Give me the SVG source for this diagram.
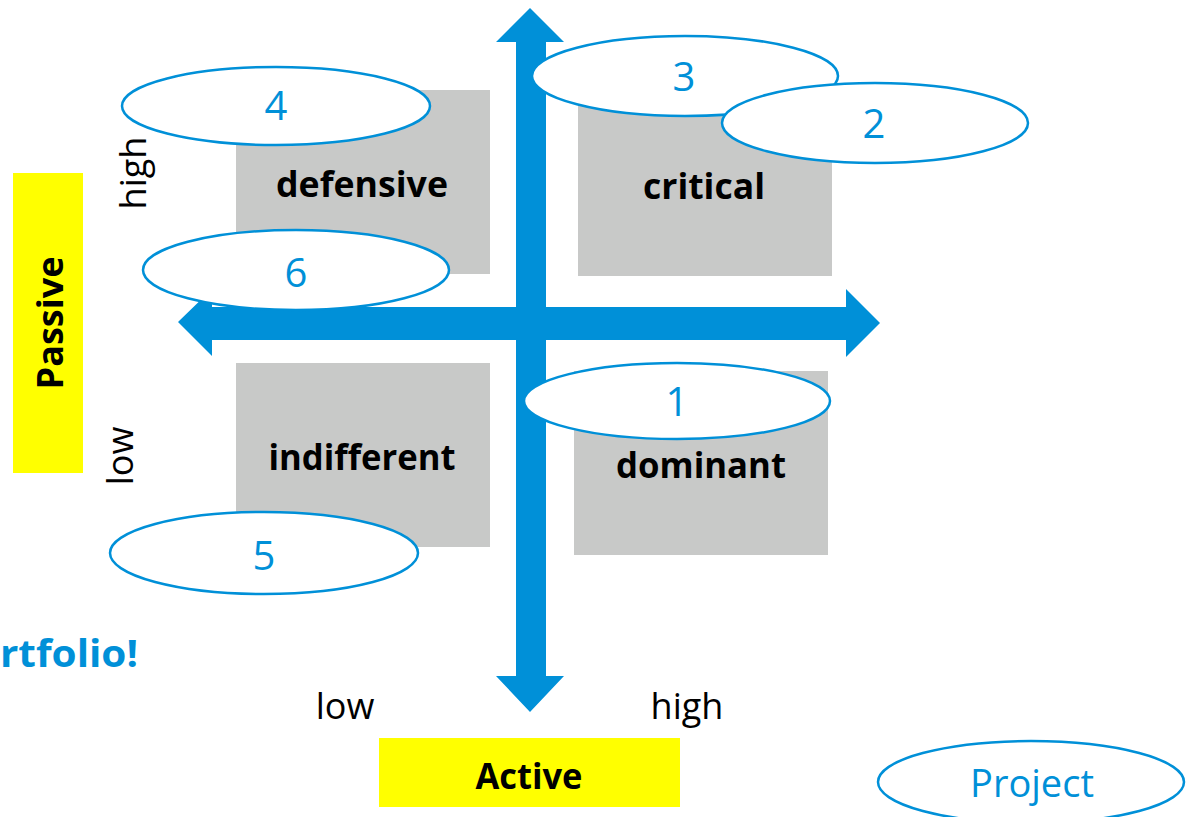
<svg xmlns="http://www.w3.org/2000/svg" width="1193" height="817" viewBox="0 0 1193 817">
<style>
.box{fill:#c8c9c8}
.ell{fill:#fff;stroke:#0090d8;stroke-width:2.5}
.num{font-family:"Open Sans","Noto Sans",sans-serif;font-size:40px;fill:#0090d8;text-anchor:middle}
.lbl{font-family:"Open Sans","Noto Sans",sans-serif;font-weight:bold;font-size:36px;fill:#000;text-anchor:middle}
.ax{font-family:"Open Sans","Noto Sans",sans-serif;font-size:36px;fill:#000;text-anchor:middle}
.arrow{fill:#0090d8}
.yel{fill:#ffff00}
</style>
<rect width="1193" height="817" fill="#fff"/>
<g id="box-defensive"><rect class="box" x="236" y="90" width="254" height="184"/><text class="lbl" x="362" y="197" textLength="172" lengthAdjust="spacingAndGlyphs">defensive</text></g>
<g id="box-critical"><rect class="box" x="578" y="95" width="254" height="181"/><text class="lbl" x="704" y="199" textLength="122" lengthAdjust="spacingAndGlyphs">critical</text></g>
<g id="box-indifferent"><rect class="box" x="236" y="363" width="254" height="184"/><text class="lbl" x="362" y="470" textLength="187" lengthAdjust="spacingAndGlyphs">indifferent</text></g>
<g id="box-dominant"><rect class="box" x="574" y="371" width="254" height="184"/><text class="lbl" x="701" y="478" textLength="170" lengthAdjust="spacingAndGlyphs">dominant</text></g>
<g id="connectors">
<polygon class="arrow" points="530,8 564,42 546,42 546,676 564,676 530,712 496,676 516,676 516,42 496,42"/>
<polygon class="arrow" points="178,322 212,289 212,307 846,307 846,289 880,323 846,357 846,340 212,340 212,356"/>
</g>
<g id="n4"><ellipse class="ell" cx="276" cy="106" rx="154" ry="39"/><text class="num" x="276" y="120">4</text></g>
<g id="n3"><ellipse class="ell" cx="685" cy="76" rx="153" ry="40"/><text class="num" x="684" y="91">3</text></g>
<g id="n2"><ellipse class="ell" cx="875" cy="123" rx="153" ry="40"/><text class="num" x="874" y="138">2</text></g>
<g id="n6"><ellipse class="ell" cx="296" cy="270" rx="153" ry="40"/><text class="num" x="296" y="287">6</text></g>
<g id="n1"><ellipse class="ell" cx="677" cy="401" rx="153" ry="38"/><text class="num" x="677" y="416">1</text></g>
<g id="n5"><ellipse class="ell" cx="264" cy="553" rx="154" ry="41"/><text class="num" x="264" y="570">5</text></g>
<g id="project"><ellipse class="ell" cx="1031" cy="782" rx="153" ry="41"/><text class="num" x="1032" y="797" style="font-size:38px">Project</text></g>
<g id="passive"><rect class="yel" x="13" y="173" width="70" height="300"/><text class="lbl" transform="translate(63,323) rotate(-90)" textLength="133" lengthAdjust="spacingAndGlyphs">Passive</text></g>
<g id="active"><rect class="yel" x="379" y="738" width="301" height="69"/><text class="lbl" x="529" y="789" textLength="107" lengthAdjust="spacingAndGlyphs">Active</text></g>
<g id="axis-labels">
<text class="ax" transform="translate(146,173) rotate(-90)">high</text>
<text class="ax" transform="translate(133,456) rotate(-90)">low</text>
<text class="ax" x="345" y="719">low</text>
<text class="ax" x="687" y="719">high</text>
</g>
<text x="0" y="667" textLength="138" lengthAdjust="spacingAndGlyphs" style="font-family:'Open Sans','Noto Sans',sans-serif;font-weight:bold;font-size:37px;fill:#0090d8">rtfolio!</text>
</svg>
